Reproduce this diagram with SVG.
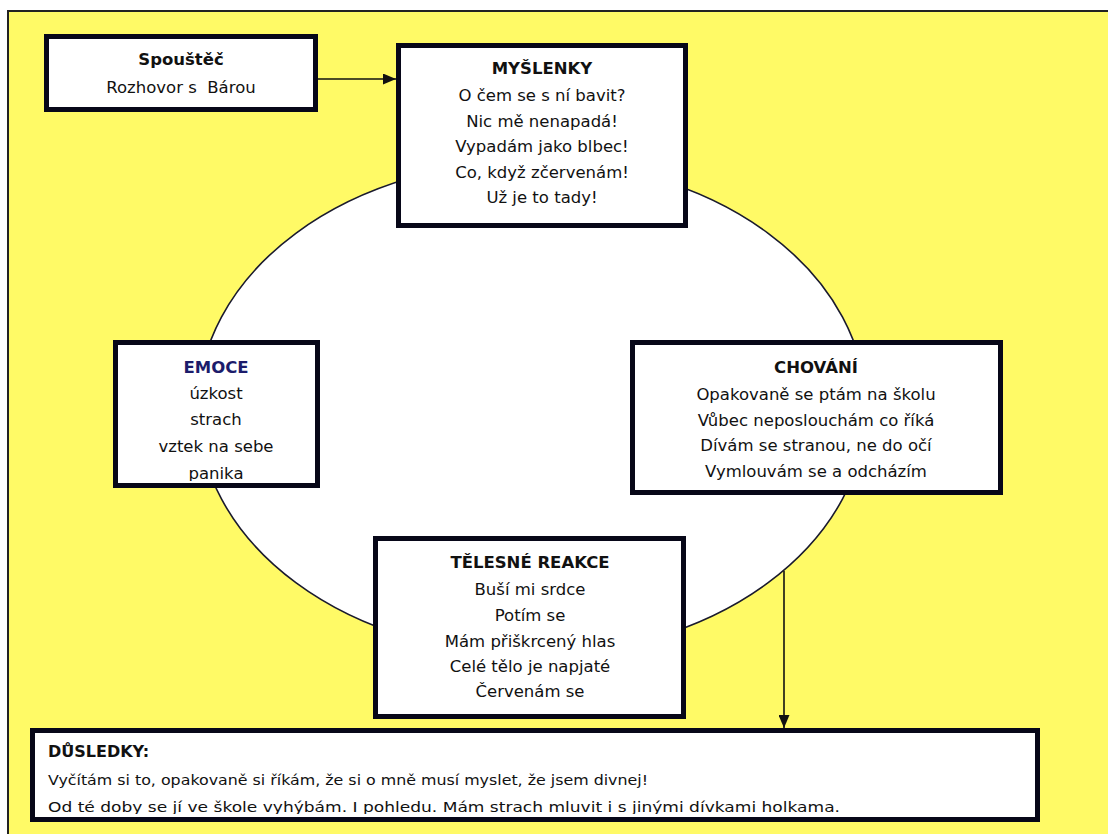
<svg xmlns="http://www.w3.org/2000/svg" width="1108" height="834" viewBox="0 0 1108 834">
<style>
.box{fill:#fff;stroke:#070718;stroke-width:5}
.t{font-family:"DejaVu Sans","Liberation Sans",sans-serif;font-size:16.5px;fill:#111;text-anchor:middle}
.h{font-weight:bold}
.l{text-anchor:start;font-size:14.5px}
.lh{font-size:16px}
.conn{stroke:#111;stroke-width:1.6;fill:none}
</style>
<defs>
<marker id="ah" markerWidth="13" markerHeight="11" refX="13" refY="5.5" orient="auto" markerUnits="userSpaceOnUse">
<path d="M0,0 L13,5.5 L0,11 Z" fill="#111"/>
</marker>
<clipPath id="cE"><rect x="118" y="345" width="197" height="136"/></clipPath>
<clipPath id="cD"><rect x="35" y="733" width="1000" height="81"/></clipPath>
</defs>
<rect x="0" y="0" width="1108" height="834" fill="#fff"/>
<rect x="8" y="11" width="1102" height="826" fill="#FFFA66" stroke="#222" stroke-width="2"/>
<ellipse cx="532" cy="408" rx="334" ry="247" fill="#fff" stroke="#1a1a2e" stroke-width="1.6"/>
<g id="spoustec">
<rect class="box" x="46.5" y="36.5" width="269" height="73"/>
<text class="t h" x="181" y="65">Spouštěč</text>
<text class="t" x="181" y="93" style="white-space:pre">Rozhovor s  Bárou</text>
</g>
<g id="myslenky">
<rect class="box" x="398.5" y="45.5" width="287" height="180"/>
<text class="t h" x="542" y="74">MYŠLENKY</text>
<text class="t" x="542" y="101">O čem se s ní bavit?</text>
<text class="t" x="542" y="126.5">Nic mě nenapadá!</text>
<text class="t" x="542" y="152">Vypadám jako blbec!</text>
<text class="t" x="542" y="177.5">Co, když zčervenám!</text>
<text class="t" x="542" y="203">Už je to tady!</text>
</g>
<g id="emoce">
<rect class="box" x="115.5" y="342.5" width="202" height="143"/>
<g clip-path="url(#cE)">
<text class="t h" x="216" y="373" style="fill:#1c1c6b">EMOCE</text>
<text class="t" x="216" y="399">úzkost</text>
<text class="t" x="216" y="425">strach</text>
<text class="t" x="216" y="452">vztek na sebe</text>
<text class="t" x="216" y="479">panika</text>
</g>
</g>
<g id="chovani">
<rect class="box" x="632.5" y="342.5" width="368" height="150"/>
<text class="t h" x="816" y="373">CHOVÁNÍ</text>
<text class="t" x="816" y="400">Opakovaně se ptám na školu</text>
<text class="t" x="816" y="425.5">Vůbec neposlouchám co říká</text>
<text class="t" x="816" y="451">Dívám se stranou, ne do očí</text>
<text class="t" x="816" y="477">Vymlouvám se a odcházím</text>
</g>
<g id="telesne">
<rect class="box" x="375.5" y="538.5" width="308" height="178"/>
<text class="t h" x="530" y="568">TĚLESNÉ REAKCE</text>
<text class="t" x="530" y="595">Buší mi srdce</text>
<text class="t" x="530" y="621">Potím se</text>
<text class="t" x="530" y="647">Mám přiškrcený hlas</text>
<text class="t" x="530" y="672">Celé tělo je napjaté</text>
<text class="t" x="530" y="697">Červenám se</text>
</g>
<g id="dusledky">
<rect class="box" x="32.5" y="730.5" width="1005" height="89"/>
<g clip-path="url(#cD)">
<text class="t h l lh" x="48" y="757">DŮSLEDKY:</text>
<text class="t l" x="48" y="785" textLength="600" lengthAdjust="spacingAndGlyphs">Vyčítám si to, opakovaně si říkám, že si o mně musí myslet, že jsem divnej!</text>
<text class="t l" x="48" y="812" textLength="792" lengthAdjust="spacingAndGlyphs">Od té doby se jí ve škole vyhýbám. I pohledu. Mám strach mluvit i s jinými dívkami holkama.</text>
</g>
</g>
<g id="connectors">
<line class="conn" x1="318" y1="79" x2="396" y2="79" marker-end="url(#ah)"/>
<line class="conn" x1="784" y1="571" x2="784" y2="728" marker-end="url(#ah)"/>
</g>
</svg>
